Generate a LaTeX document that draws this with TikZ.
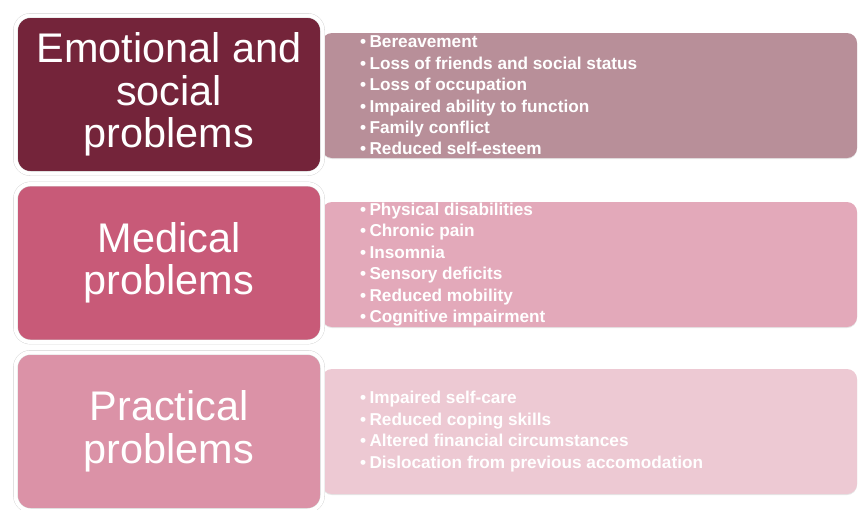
\documentclass[tikz,border=0pt]{standalone}
\usepackage{fontspec}
\setmainfont{Liberation Sans}
\usetikzlibrary{shadows}

\definecolor{scuro}{HTML}{74243A}
\definecolor{scuroChiaro}{HTML}{B88F99}
\definecolor{medio}{HTML}{C85A78}
\definecolor{medioChiaro}{HTML}{E3A9BA}
\definecolor{tenue}{HTML}{DB92A7}
\definecolor{tenueChiaro}{HTML}{EDC9D3}

\newcommand\voce[1]{\textbullet\hspace{3.5pt}#1}

\begin{document}
\begin{tikzpicture}[x=1pt,y=-1pt,
  titolo/.style={rectangle,rounded corners=15pt,draw=gray!35,double=white,
    double distance=4pt,minimum width=307pt,minimum height=158pt,inner sep=0pt,
    text=white,align=center,font=\fontsize{41.4}{42.5}\selectfont,
    drop shadow={opacity=.15,shadow xshift=0pt,shadow yshift=-1.5pt}},
  pannello/.style={rectangle,rounded corners=10pt,minimum width=535pt,
    minimum height=125pt,inner sep=0pt,
    drop shadow={opacity=.2,shadow xshift=0pt,shadow yshift=-1pt}},
  voci/.style={anchor=west,inner sep=0pt,text=white,align=left,
    font=\bfseries\fontsize{17.2}{21.4}\selectfont}]

  \useasboundingbox (0,0) rectangle (858,509);

  % Pannelli
  \node[pannello,fill=scuroChiaro] (p1) at (589.5,95.5) {};
  \node[pannello,fill=medioChiaro] (p2) at (589.5,264.5) {};
  \node[pannello,fill=tenueChiaro] (p3) at (589.5,431.5) {};

  % Riquadri
  \node[titolo,fill=scuro] (t1) at (169,94.5) {Emotional and\\social\\problems};
  \node[titolo,fill=medio] (t2) at (169,263) {Medical\\problems};
  \node[titolo,fill=tenue] (t3) at (169,431.5) {Practical\\problems};

  % Elenchi
  \node[voci] (v1) at ([xshift=38pt]p1.west)
    {\voce{Bereavement}\\\voce{Loss of friends and social status}\\
     \voce{Loss of occupation}\\\voce{Impaired ability to function}\\
     \voce{Family conflict}\\\voce{Reduced self-esteem}};
  \node[voci] (v2) at ([xshift=38pt]p2.west)
    {\voce{Physical disabilities}\\\voce{Chronic pain}\\\voce{Insomnia}\\
     \voce{Sensory deficits}\\\voce{Reduced mobility}\\
     \voce{Cognitive impairment}};
  \node[voci] (v3) at ([xshift=38pt]p3.west)
    {\voce{Impaired self-care}\\\voce{Reduced coping skills}\\
     \voce{Altered financial circumstances}\\
     \voce{Dislocation from previous accomodation}};

\end{tikzpicture}
\end{document}
